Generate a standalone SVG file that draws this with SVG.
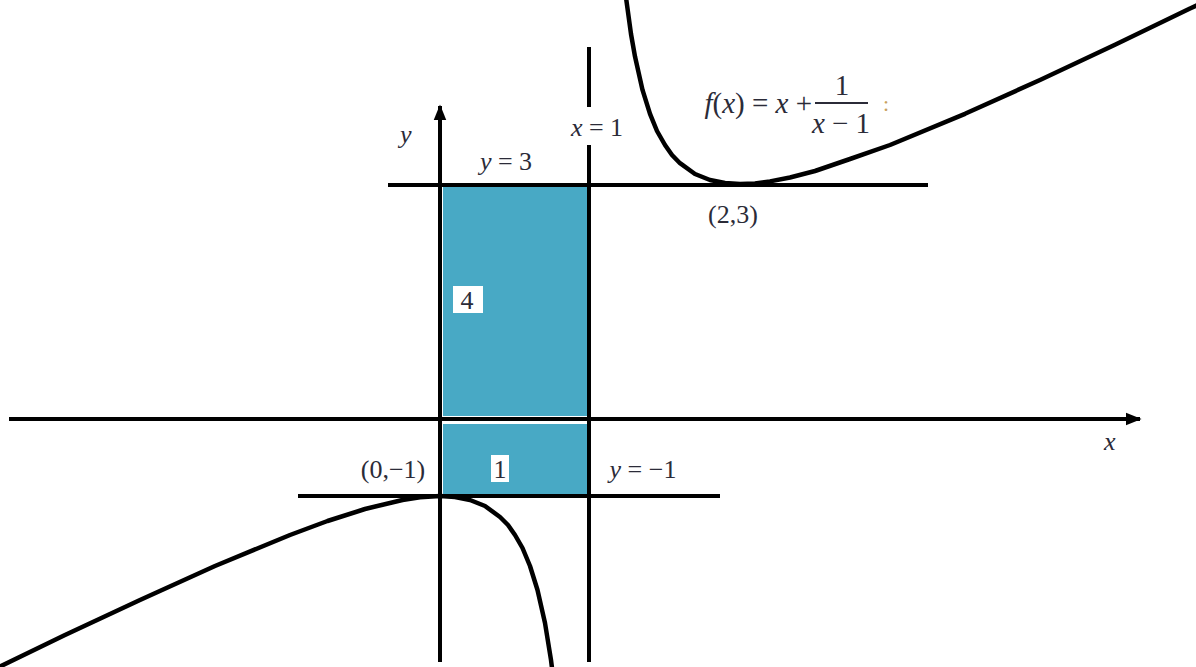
<svg xmlns="http://www.w3.org/2000/svg" width="1196" height="667" viewBox="0 0 1196 667">
<defs>
<style>
.ln{stroke:#000;stroke-width:4;fill:none}
.cv{stroke:#000;stroke-width:4.5;fill:none;stroke-linejoin:round;stroke-linecap:round}
.t{font-family:"Liberation Serif","Times New Roman",serif;font-size:26px;fill:#2b2b38}
.f{font-size:29px}
.i{font-style:italic}
.box{fill:#fff}
</style>
<marker id="arr" viewBox="0 0 10 10" refX="9" refY="5" markerWidth="4" markerHeight="4" orient="auto" markerUnits="strokeWidth">
<path d="M0,1 L10,5 L0,9 z" fill="#000"/>
</marker>
</defs>
<rect width="1196" height="667" fill="#fff"/>
<g id="region">
<rect x="443" y="187" width="145" height="229" fill="#48a9c5"/>
<rect x="443" y="424" width="145" height="70" fill="#48a9c5"/>
</g>
<g id="connectors">
<line class="ln" x1="9" y1="419" x2="1140" y2="419" marker-end="url(#arr)"/>
<line class="ln" x1="440" y1="662" x2="440" y2="106" marker-end="url(#arr)"/>
<line class="ln" x1="589" y1="47" x2="589" y2="107"/>
<line class="ln" x1="589" y1="145" x2="589" y2="662"/>
<line class="ln" x1="388" y1="185" x2="928" y2="185"/>
<line class="ln" x1="298" y1="496" x2="720" y2="496"/>
<path class="cv" d="M-3,668 L65,635 L140,600 L215,566 L290,535 L327.5,521 L365,509 L402.5,500 L420,497.2 L440,496 L455,497 L470,500 L485,506 L500,517 L508,525 L515,535 L522.5,548 L530,566 L537.5,590 L545,623 L551,660 L552,668"/>
<path class="cv" d="M624,-17 L627.5,8.5 L631,34 L635,56.6 L642.5,89.9 L650,113.8 L657,131 L665,145 L672,155 L680,163.2 L695,174 L710,180 L725,183 L740,184 L755,183.5 L770,181.4 L790,177.5 L815,171 L850,159 L890,145 L965,113.8 L1040,80 L1115,44.7 L1190,8.5 L1200,4"/>
</g>
<g id="labels">
<text class="t i" x="400" y="143">y</text>
<text class="t" x="597" y="136" text-anchor="middle"><tspan class="i">x</tspan> = 1</text>
<text class="t" x="506" y="170" text-anchor="middle"><tspan class="i">y</tspan> = 3</text>
<text class="t i" x="1104" y="450">x</text>
<text class="t" x="733" y="223" text-anchor="middle">(2,3)</text>
<text class="t" x="393" y="478" text-anchor="middle">(0,−1)</text>
<text class="t" x="643" y="478" text-anchor="middle"><tspan class="i">y</tspan> = −1</text>
</g>
<g id="box4">
<rect class="box" x="453" y="286" width="30" height="27"/>
<text class="t" x="467" y="309" text-anchor="middle">4</text>
</g>
<g id="box1">
<rect class="box" x="491" y="455" width="18" height="27"/>
<text class="t" x="500" y="478" text-anchor="middle">1</text>
</g>
<g id="formula">
<text class="t f" x="812" y="113" text-anchor="end"><tspan class="i">f</tspan>(<tspan class="i">x</tspan>) = <tspan class="i">x</tspan> +</text>
<text class="t f" x="842" y="95" text-anchor="middle">1</text>
<line x1="815" y1="103" x2="868" y2="103" stroke="#2b2b38" stroke-width="2"/>
<text class="t f" x="841" y="133" text-anchor="middle"><tspan class="i">x</tspan> − 1</text>
<text x="886" y="111" font-family="Liberation Serif, serif" font-size="22" fill="#c8a060" text-anchor="middle">:</text>
</g>
</svg>
